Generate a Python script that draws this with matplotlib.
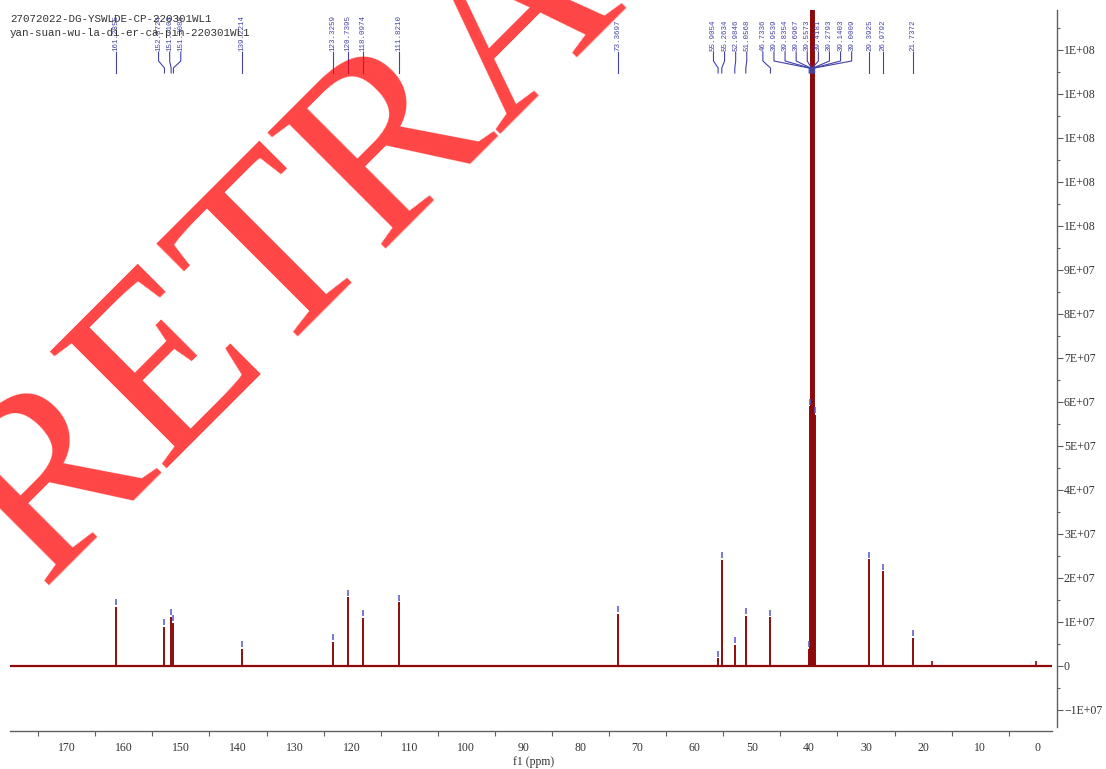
import numpy as np
import matplotlib
matplotlib.use("Agg")
import matplotlib.pyplot as plt
from matplotlib.transforms import IdentityTransform, offset_copy
from matplotlib.ticker import FixedLocator, MultipleLocator, FuncFormatter
from matplotlib.lines import Line2D

# ---------------- data ----------------
title_lines = ["27072022-DG-YSWLDE-CP-220301WL1",
               "yan-suan-wu-la-di-er-ca-pin-220301WL1"]

peak_ppm = [161.2855, 152.8724, 151.7103, 151.3088, 139.2214, 123.3259,
            120.7395, 118.0974, 111.8210, 73.3697, 55.9054, 55.2634,
            52.9846, 51.0568, 46.7336, 39.9539, 39.8354, 39.6967, 39.5573,
            39.4181, 39.2793, 39.1403, 39.0009, 29.3925, 26.9792, 21.7372]
peak_height = [1.34e7, 0.89e7, 1.11e7, 0.98e7, 0.39e7, 0.54e7,
               1.56e7, 1.09e7, 1.44e7, 1.18e7, 0.17e7, 2.41e7,
               0.48e7, 1.13e7, 1.10e7, 0.38e7, 5.9e7, 1.75e8, 3.5e8,
               4.1e8, 3.5e8, 1.75e8, 5.7e7, 2.42e7, 2.15e7, 0.64e7]
peak_label = ["161.2855", "152.8724", "151.7103", "151.3088", "139.2214",
              "123.3259", "120.7395", "118.0974", "111.8210", "73.3697",
              "55.9054", "55.2634", "52.9846", "51.0568", "46.7336",
              "39.9539", "39.8354", "39.6967", "39.5573", "39.4181",
              "39.2793", "39.1403", "39.0009", "29.3925", "26.9792",
              "21.7372"]

extra_ppm = [18.5, 0.2]
extra_height = [1.1e6, 1.0e6]

xtick_values = list(range(0, 171, 10))
xlabel = "f1 (ppm)"
watermark = "RETRACTED"

# ---------------- style ----------------
W, H = 1106, 769
plt.rcParams['font.family'] = ['Liberation Serif', 'DejaVu Serif']
spec_color = '#8e0a0a'
label_color = '#4343a8'
marker_color = '#5555c8'
axis_color = '#606060'
text_color = '#333333'

fig = plt.figure(figsize=(W / 100, H / 100), dpi=100)
ax = fig.add_axes([10 / W, 1 - 731 / H, 1047 / W, 721 / H])
ax.set_xlim(179.93, -3.45)
ax.set_ylim(-1.484e7, 1.49e8)

for s in ['left', 'top']:
    ax.spines[s].set_visible(False)
ax.spines['bottom'].set_bounds(179.93, -2.6)
ax.spines['right'].set_bounds(-1.39e7, 1.49e8)
for s in ['bottom', 'right']:
    ax.spines[s].set_color(axis_color)
    ax.spines[s].set_linewidth(1.0)

# x ticks
ax.xaxis.set_major_locator(FixedLocator(xtick_values))
ax.xaxis.set_minor_locator(FixedLocator(np.arange(5, 180, 10)))
ax.tick_params(axis='x', which='major', length=0, pad=8, labelsize=8.5,
               labelcolor=text_color)
ax.tick_params(axis='x', which='minor', length=3.5, width=0.8,
               direction='out', color=axis_color)

# y ticks on right
ax.yaxis.tick_right()
ax.yaxis.set_major_locator(MultipleLocator(1e7))
ax.yaxis.set_minor_locator(MultipleLocator(5e6))


def yfmt(v, pos):
    if abs(v) < 1:
        return '0'
    return f"{v:.0E}".replace('-', '\u2212')


ax.yaxis.set_major_formatter(FuncFormatter(yfmt))
ax.tick_params(axis='y', which='major', length=4, width=0.8, pad=1,
               labelsize=8.5, color=axis_color, labelcolor=text_color)
ax.tick_params(axis='y', which='minor', length=2.5, width=0.8,
               color=axis_color)

ax.set_xlabel(xlabel, fontsize=8.5, color=text_color, labelpad=1)

# spectrum
ax.hlines(0, 179.93, -2.6, color=spec_color, lw=1.6, zorder=2)
ax.vlines(peak_ppm, 0, peak_height, color=spec_color, lw=1.4, zorder=3)
ax.vlines(extra_ppm, 0, extra_height, color=spec_color, lw=1.2, zorder=3)

# peak-top markers
ax.plot(peak_ppm, peak_height, ls='none', marker='|', ms=5, mew=1.1,
        color=marker_color,
        transform=offset_copy(ax.transData, fig=fig, y=4.5, units='dots'),
        zorder=4)

# peak labels with connectors
px = ax.transData.transform(np.column_stack([peak_ppm,
                                             np.zeros(len(peak_ppm))]))[:, 0]


def spread(xs, gap):
    clusters = [[x] for x in xs]

    def pos(cl):
        c = np.mean(cl)
        n = len(cl)
        start = c - (n - 1) * gap / 2
        return [start + i * gap for i in range(n)]

    changed = True
    while changed:
        changed = False
        new = [clusters[0]]
        for cl in clusters[1:]:
            prev = new[-1]
            if pos(prev)[-1] + gap > pos(cl)[0]:
                new[-1] = prev + cl
                changed = True
            else:
                new.append(cl)
        clusters = new
    out = []
    for cl in clusters:
        out.extend(pos(cl))
    return np.array(out)


order = np.argsort(px)
lx_sorted = spread(px[order], 11.1)
lx = np.empty_like(px)
lx[order] = lx_sorted

ident = IdentityTransform()
for x_lab, x_pk, lab in zip(lx, px, peak_label):
    fig.text(x_lab, H - 51, lab, rotation=90, ha='center', va='bottom',
             fontsize=5.4, family='Liberation Mono', color=label_color,
             transform=ident)
    fig.add_artist(Line2D([x_lab, x_lab, x_pk, x_pk],
                          [H - 52, H - 61, H - 68, H - 73],
                          lw=0.8, color=label_color, transform=ident))

# title
fig.text(10, H - 22, title_lines[0], family='Liberation Mono', fontsize=7.8,
         color=text_color, transform=ident, va='baseline')
fig.text(10, H - 36, title_lines[1], family='Liberation Mono', fontsize=7.8,
         color=text_color, transform=ident, va='baseline')

# watermark
fig.text(41, H - 587, watermark, fontsize=182, family='Liberation Serif',
         color='#ff0000', alpha=0.73, rotation=45, rotation_mode='anchor',
         ha='left', va='baseline', transform=ident, zorder=20)

fig.savefig("out.png", dpi=100)
